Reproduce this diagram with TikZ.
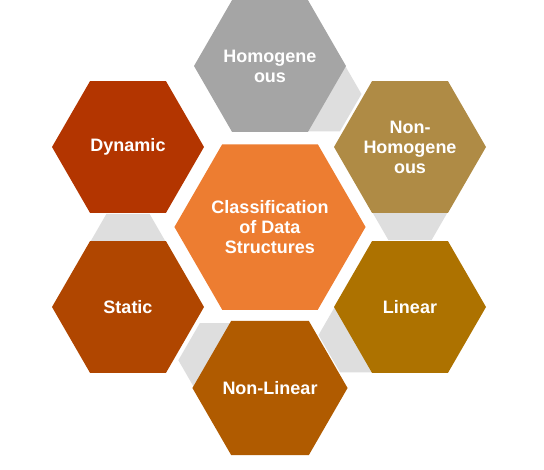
\documentclass[tikz,border=0pt]{standalone}
\usepackage{fontspec}
\setmainfont{Liberation Sans}
\usetikzlibrary{shapes.geometric,calc,backgrounds}
\definecolor{clsorange}{HTML}{ED7D31}
\definecolor{homgray}{HTML}{A5A5A5}
\definecolor{nonhomkhaki}{HTML}{AF8B45}
\definecolor{lingold}{HTML}{AD7200}
\definecolor{nonlinbrown}{HTML}{B05B00}
\definecolor{statbrown}{HTML}{B04600}
\definecolor{dynred}{HTML}{B33500}
\definecolor{linkgray}{HTML}{DEDEDE}

\begin{document}
\begin{tikzpicture}[x=1pt,y=-1pt,
    hex_node/.style={regular polygon,regular polygon sides=6,minimum size=152pt,inner sep=0pt,outer sep=0pt,
      align=center,text=white,font=\bfseries\fontsize{18}{20}\selectfont},
    link_node/.style={regular polygon,regular polygon sides=6,minimum size=86pt,inner sep=0pt,fill=linkgray}]

    \useasboundingbox (0,0) rectangle (544,469);

    \node[hex_node,fill=clsorange,minimum size=187pt] (cls) at (270,227) {Classification\\of Data\\Structures};
    \node[hex_node,fill=homgray] (hom) at (270,66) {Homogene\\ous};
    \node[hex_node,fill=nonhomkhaki] (nonhom) at (410,147) {Non-\\Homogene\\ous};
    \node[hex_node,fill=lingold] (lin) at (410,307) {Linear};
    \node[hex_node,fill=nonlinbrown] (nonlin) at (270,388) {Non-Linear};
    \node[hex_node,fill=statbrown] (stat) at (128,307) {Static};
    \node[hex_node,fill=dynred] (dyn) at (128,147) {Dynamic};

    \begin{scope}[on background layer]
    \node[link_node] (l1) at ($(hom)!56pt!(nonhom)$) {};
    \node[link_node] (l2) at ($(nonhom)!56pt!(lin)$) {};
    \node[link_node] (l3) at ($(lin)!56pt!(nonlin)$) {};
    \node[link_node] (l4) at ($(nonlin)!56pt!(stat)$) {};
    \node[link_node] (l5) at ($(stat)!56pt!(dyn)$) {};
    \end{scope}
\end{tikzpicture}
\end{document}
